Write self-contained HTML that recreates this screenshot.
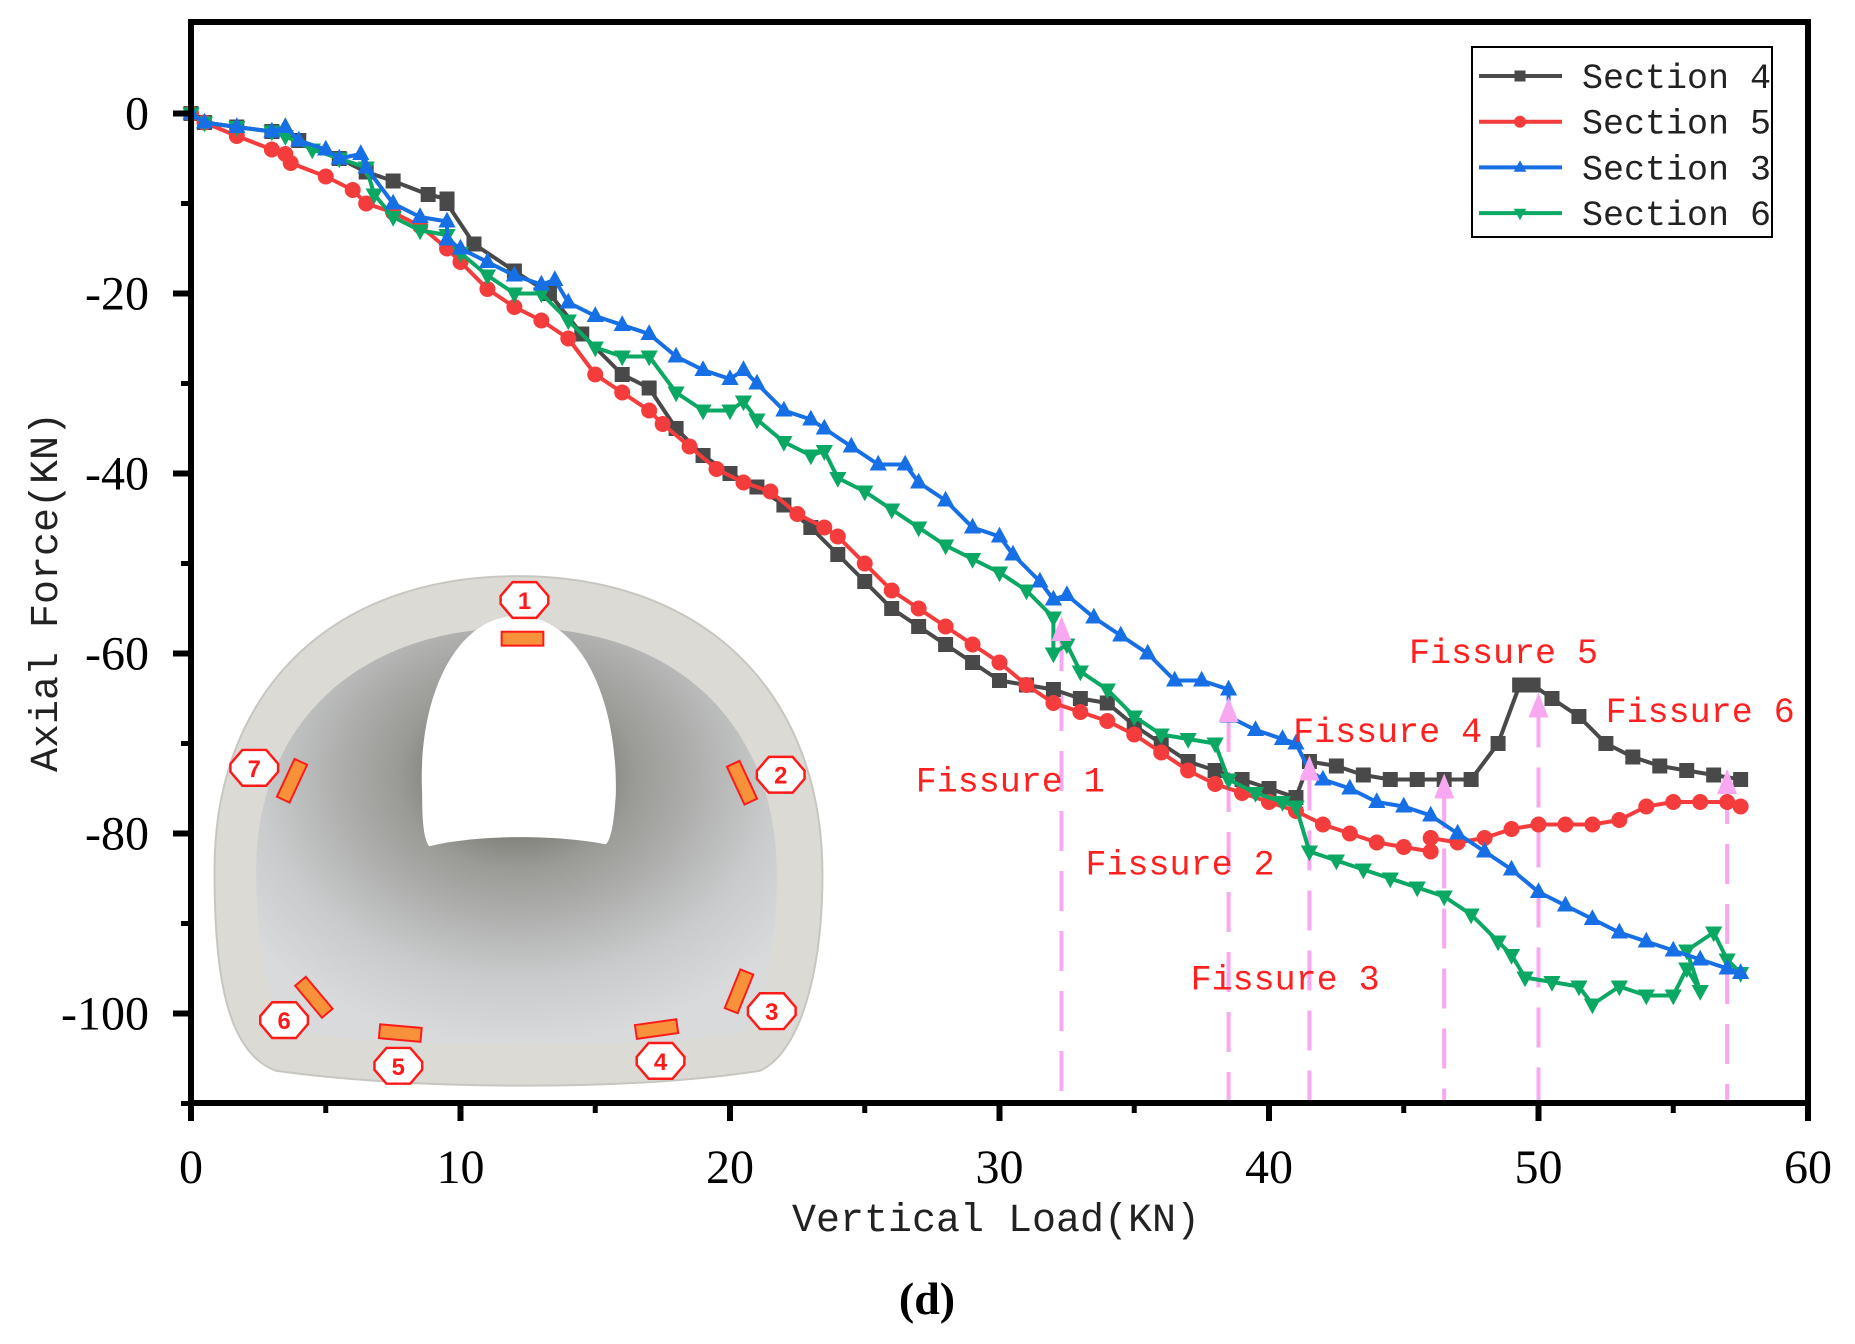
<!DOCTYPE html>
<html><head><meta charset="utf-8"><style>
html,body{margin:0;padding:0;background:#fff;}
svg{display:block;}
.tk{font-family:"Liberation Serif",serif;font-size:48px;fill:#000;}
.mono{font-family:"Liberation Mono",monospace;font-size:35px;}
</style></head><body>
<svg id="chart" width="1855" height="1344" viewBox="0 0 1855 1344" xmlns="http://www.w3.org/2000/svg">
<defs>
<radialGradient id="innerG" cx="0.5" cy="0.35" r="0.65">
<stop offset="0" stop-color="#56564f"/><stop offset="0.35" stop-color="#9a9a96"/><stop offset="0.75" stop-color="#c8cacb"/><stop offset="1" stop-color="#d8dadc"/>
</radialGradient>
</defs>
<g transform="scale(0.9933)">
<g id="inset">
<path d="M216,880 C214,700 330,580 521,580 C712,580 828,700 828,880 C828,980 805,1060 765,1078 C640,1098 420,1098 278,1078 C228,1060 216,980 216,880 Z" fill="#dcdad4" stroke="#c8c6c0" stroke-width="2"/>
<path d="M258,880 C256,730 360,632 521,632 C682,632 782,730 782,880 C782,960 770,1020 748,1040 C640,1056 420,1056 300,1040 C270,1020 258,960 258,880 Z" fill="url(#innerG)"/>
<path d="M425,800 C420,700 460,620 521,620 C582,620 622,700 620,800 C618,830 615,845 610,850 C560,840 480,840 432,852 C427,845 425,830 425,800 Z" fill="#fff"/>
</g>
<g id="sensors"></g>
</g>
<g id="plot"></g>
</svg>
<script>
const NS="http://www.w3.org/2000/svg";
const xTicks=[0,10,20,30,40,50,60];
const yTicks=[0,-20,-40,-60,-80,-100];
const s4x=[0,0.5,1.7,3,4,5.5,6.5,7.5,8.8,9.5,9.5,10.5,12,13.3,14.5,16,17,18,19,20,21,22,23,24,25,26,27,28,29,30,31,32,33,34,35,36,37,38,39,40,41,41.5,42.5,43.5,44.5,45.5,46.5,47.5,48.5,49.3,49.8,50.5,51.5,52.5,53.5,54.5,55.5,56.5,57.5];
const s4y=[0,-1,-1.5,-2,-3,-5,-6.5,-7.5,-9,-9.5,-10,-14.5,-17.5,-20,-24.5,-29,-30.5,-35,-38,-40,-41.5,-43.5,-46,-49,-52,-55,-57,-59,-61,-63,-63.5,-64,-65,-65.5,-68,-70,-72,-73,-74,-75,-76,-72,-72.5,-73.5,-74,-74,-74,-74,-70,-63.5,-63.5,-65,-67,-70,-71.5,-72.5,-73,-73.5,-74];
const s5x=[0,0.5,1.7,3,3.5,3.7,5,6,6.5,7.5,8.5,9.5,10,11,12,13,14,15,16,17,17.5,18.5,19.5,20.5,21.5,22.5,23.5,24,25,26,27,28,29,30,31,32,33,34,35,36,37,38,39,40,41,42,43,44,45,46,46,47,48,49,50,51,52,53,54,55,56,57,57.5];
const s5y=[0,-1,-2.5,-4,-4.5,-5.5,-7,-8.5,-10,-11,-12.5,-15,-16.5,-19.5,-21.5,-23,-25,-29,-31,-33,-34.5,-37,-39.5,-41,-42,-44.5,-46,-47,-50,-53,-55,-57,-59,-61,-63.5,-65.5,-66.5,-67.5,-69,-71,-73,-74.5,-75.5,-76.5,-77.5,-79,-80,-81,-81.5,-82,-80.5,-81,-80.5,-79.5,-79,-79,-79,-78.5,-77,-76.5,-76.5,-76.5,-77];
const s3x=[0,0.5,1.7,3,3.5,4,5,5.5,6.3,6.5,7.5,8.5,9.5,9.5,10,11,12,13,13.5,14,15,16,17,18,19,20,20.5,21,22,23,23.5,24.5,25.5,26.5,27,28,29,30,30.5,31.5,32,32.5,33.5,34.5,35.5,36.5,37.5,38.5,38.5,39.5,40.5,41,41.5,42,43,44,45,46,47,48,49,50,51,52,53,54,55,56,57,57.5];
const s3y=[0,-1,-1.5,-2,-1.5,-3,-4,-5,-4.5,-6,-10,-11.5,-12,-14,-15,-16.5,-18,-19,-18.5,-21,-22.5,-23.5,-24.5,-27,-28.5,-29.5,-28.5,-30,-33,-34,-35,-37,-39,-39,-41,-43,-46,-47,-49,-52,-54,-53.5,-56,-58,-60,-63,-63,-64,-67,-68.5,-69.5,-70,-73,-74,-75,-76.5,-77,-78,-80,-82,-84,-86.5,-88,-89.5,-91,-92,-93,-94,-95,-95.5];
const s6x=[0,0.5,1.7,3,3.5,4.5,5.5,6.5,6.8,7.5,8.5,9.5,10,11,12,13,14,15,16,17,18,19,20,20.5,21,22,23,23.5,24,25,26,27,28,29,30,31,32,32,32.5,33,34,35,36,37,38,38.5,39.5,40.5,41,41.5,42.5,43.5,44.5,45.5,46.5,47.5,48.5,49,49.5,50.5,51.5,52,53,54,55,55.5,56,55.5,56.5,57,57.5];
const s6y=[0,-1,-1.5,-2,-2.5,-4,-5,-6,-9,-11.5,-13,-13.5,-15.5,-18,-20,-20,-23,-26,-27,-27,-31,-33,-33,-32,-34,-36.5,-38,-37.5,-40.5,-42,-44,-46,-48,-49.5,-51,-53,-56,-60,-59,-62,-64,-67,-69,-69.5,-70,-74,-75.5,-76.5,-77,-82,-83,-84,-85,-86,-87,-89,-92,-93.5,-96,-96.5,-97,-99,-97,-98,-98,-95,-97.5,-93,-91,-94,-95.5];
const fissureX=[32.3,38.5,41.5,46.5,50,57];
const fissureY=[-57.5,-66.5,-73,-75,-66,-74.5];
const fissureNames=["Fissure 1","Fissure 2","Fissure 3","Fissure 4","Fissure 5","Fissure 6"];
const fissureLabelX=[30.4,36.7,40.6,44.4,48.7,56.0];
const fissureLabelY=[-74,-83.2,-96,-68.5,-59.7,-66.3];

const L=191,R=1808,T=22,B=1103;
const X=v=>L+v*(R-L)/60;
const Y=v=>113.5-v*9.0;
const plot=document.getElementById('plot');
function mk(tag,attrs,parent){const e=document.createElementNS(NS,tag);for(const k in attrs)e.setAttribute(k,attrs[k]);(parent||plot).appendChild(e);return e;}

fissureX.forEach((fx,i)=>{
  const ln=mk('line',{x1:X(fx),x2:X(fx),y1:Y(fissureY[i]),y2:B,stroke:'#f8a8f0','stroke-width':4,'stroke-dasharray':'40,20'});
  
  
});

const series=[
 {x:s4x,y:s4y,c:'#494949',m:'sq',n:'section-4-line'},
 {x:s5x,y:s5y,c:'#f43c3c',m:'ci',n:'section-5-line'},
 {x:s6x,y:s6y,c:'#0aa862',m:'dn',n:'section-6-line'},
 {x:s3x,y:s3y,c:'#176fe6',m:'up',n:'section-3-line'}
];
function marker(type,cx,cy,c,g,s){
  s=s||7.5;let e;
  if(type==='sq')e=mk('rect',{x:cx-s,y:cy-s,width:2*s,height:2*s,fill:c},g);
  else if(type==='ci')e=mk('circle',{cx:cx,cy:cy,r:s+0.5,fill:c},g);
  else if(type==='up')e=mk('polygon',{points:`${cx},${cy-s*1.3} ${cx-s*1.15},${cy+s*0.8} ${cx+s*1.15},${cy+s*0.8}`,fill:c},g);
  else e=mk('polygon',{points:`${cx},${cy+s*1.3} ${cx-s*1.15},${cy-s*0.8} ${cx+s*1.15},${cy-s*0.8}`,fill:c},g);
  return e;
}
series.forEach(sr=>{
  const g=mk('g',{});
  
  
  mk('polyline',{points:sr.x.map((v,i)=>X(v)+','+Y(sr.y[i])).join(' '),fill:'none',stroke:sr.c,'stroke-width':4,'stroke-linejoin':'round'},g);
  sr.x.forEach((v,i)=>{const p=marker(sr.m,X(v),Y(sr.y[i]),sr.c,g);
    
    });
});
fissureX.forEach((fx,i)=>{
  const t=mk('polygon',{points:`${X(fx)},${Y(fissureY[i])-15} ${X(fx)-10},${Y(fissureY[i])+10} ${X(fx)+10},${Y(fissureY[i])+10}`,fill:'#f8a8f0'});
  
  
  const tx=mk('text',{x:X(fissureLabelX[i]),y:Y(fissureLabelY[i])+12,'text-anchor':'middle',fill:'#ff2020',class:'mono'});
  tx.textContent=fissureNames[i];
  
  
});

const ax=mk('rect',{x:L,y:T,width:R-L,height:B-T,fill:'none',stroke:'#000','stroke-width':6});


xTicks.forEach(v=>{
  mk('line',{x1:X(v),x2:X(v),y1:B,y2:B+18,stroke:'#000','stroke-width':6});
  const t=mk('text',{x:X(v),y:B+80,'text-anchor':'middle',class:'tk'});t.textContent=v;
  
  
  if(v<60)mk('line',{x1:X(v+5),x2:X(v+5),y1:B,y2:B+10,stroke:'#000','stroke-width':5});
});
yTicks.forEach(v=>{
  mk('line',{x1:L,x2:L-18,y1:Y(v),y2:Y(v),stroke:'#000','stroke-width':6});
  const t=mk('text',{x:149,y:Y(v)+16,'text-anchor':'end',class:'tk'});t.textContent=(v<0?'-':'')+Math.abs(v);
  
  
  mk('line',{x1:L,x2:L-10,y1:Y(v-10),y2:Y(v-10),stroke:'#000','stroke-width':5});
});
const xt=mk('text',{x:996,y:1231,'text-anchor':'middle',class:'mono',fill:'#222','font-size':'40px',style:'font-size:40px'});xt.textContent='Vertical Load(KN)';


const yt=mk('text',{x:0,y:0,'text-anchor':'middle',class:'mono',fill:'#222',style:'font-size:40px',transform:'translate(57,592) rotate(-90)'});yt.textContent='Axial Force(KN)';


const cap=mk('text',{x:927,y:1314,'text-anchor':'middle','font-family':'Liberation Serif,serif','font-weight':'bold','font-size':'46px'});cap.textContent='(d)';



const lg=mk('g',{});


mk('rect',{x:1472,y:47,width:300,height:190,fill:'#fff',stroke:'#000','stroke-width':2},lg);
const legNames=['Section 4','Section 5','Section 3','Section 6'];
const legIdx=[0,1,3,2];
legNames.forEach((nm,i)=>{
  const sr=series[legIdx[i]],yy=76+i*45.7;
  const e=mk('g',{},lg);
  
  
  mk('line',{x1:1479,x2:1562,y1:yy,y2:yy,stroke:sr.c,'stroke-width':4},e);
  marker(sr.m,1520,yy,sr.c,e,5.5);
  const t=mk('text',{x:1582,y:yy+12,class:'mono',fill:'#222'},e);t.textContent=nm;
});

const sg=document.getElementById('sensors');
const sensorCx=[526,747,744,661,403,316,294];
const sensorCy=[643,788,998,1036,1040,1004,786];
const sensorRot=[0,65,-68,-8,5,50,-65];
const badgeCx=[528,786,777,665,401,286,256];
const badgeCy=[604,780,1018,1068,1073,1027,773];
sensorCx.forEach((cx,i)=>{
  const r=mk('rect',{x:cx-21,y:sensorCy[i]-7,width:42,height:14,fill:'#f7913a',stroke:'#ff1a1a','stroke-width':2,transform:`rotate(${sensorRot[i]} ${cx} ${sensorCy[i]})`},sg);
  
  
  const bx=badgeCx[i],by=badgeCy[i];
  const b=mk('g',{},sg);
  
  
  mk('polygon',{points:`${bx-12},${by-18} ${bx+12},${by-18} ${bx+24},${by-4} ${bx+24},${by+4} ${bx+12},${by+18} ${bx-12},${by+18} ${bx-24},${by+4} ${bx-24},${by-4}`,fill:'#fff',stroke:'#ff1a1a','stroke-width':2.5},b);
  const t=mk('text',{x:bx,y:by+9,'text-anchor':'middle','font-family':'Liberation Sans,sans-serif','font-weight':'bold','font-size':'24px',fill:'#ff1a1a'},b);t.textContent=i+1;
});
</script>
</body></html>
